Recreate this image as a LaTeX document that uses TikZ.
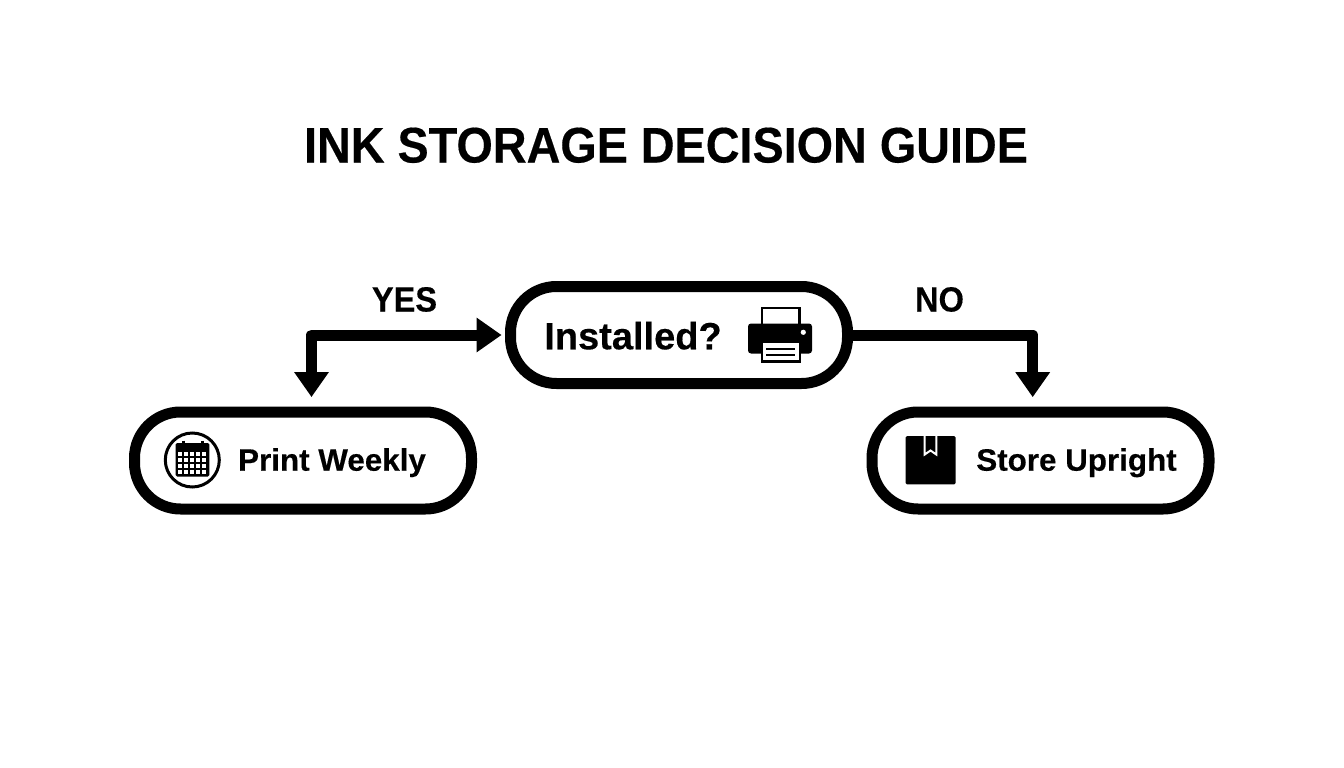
\documentclass[tikz,border=0pt]{standalone}
\usepackage{fontspec}
\usepackage{graphicx}
\setmainfont[BoldFeatures={FakeBold=0.35}]{Liberation Sans}
\usetikzlibrary{arrows.meta,calc}
\tikzset{
  pill/.style={draw=black,fill=white,line width=11pt,rectangle,rounded corners=46pt,minimum width=337pt,minimum height=97pt,inner sep=0pt},
  conn/.style={draw=black,line width=11pt,line join=round},
  tip/.tip={Triangle[length=25pt,width=33pt]},
  lab/.style={anchor=base,inner sep=0pt,text=black},
}
\newcommand{\txt}[3]{\fontsize{#1pt}{#1pt}\selectfont\bfseries\scalebox{#2}[1]{#3}}
\begin{document}
\begin{tikzpicture}[x=1pt,y=-1pt]
\useasboundingbox (0,0) rectangle (1344,768);
\fill[white] (0,0) rectangle (1344,768);
\node[lab] (title) at (666,162.5) {\txt{50}{0.935}{INK STORAGE DECISION GUIDE}};
\node[pill] (inst) at (679,335) {};
\node[pill] (print) at (303,460.5) {};
\node[pill] (store) at (1040.5,460.5) {};
\node[lab] (yes) at (404.5,311.5) {\txt{35}{0.93}{YES}};
\node[lab] (no) at (939.5,311.5) {\txt{35}{0.93}{NO}};
\node[lab] (t1) at (633,349.3) {\txt{38}{1.0}{Installed?}};
\node[lab] (t2) at (332,470.7) {\txt{31}{1.012}{Print Weekly}};
\node[lab] (t3) at (1076.5,470.7) {\txt{31}{1.012}{Store Upright}};
\draw[conn,{tip}-{tip},shorten <=3.4pt,shorten >=9.4pt] (inst.west) -| ($(print.north)+(8.5,0)$);
\draw[conn,-{tip},shorten >=9.3pt] (inst.east) -| ($(store.north)+(-7.8,0)$);
% printer icon
\draw[black,line width=2.6pt,fill=white] (761.8,307.8) rectangle (799.4,330);
\fill[black,rounded corners=3pt] (748,323.5) rectangle (812,353.5);
\fill[white] (803.3,332.3) circle (2.6);
\draw[black,line width=2.6pt,fill=white] (761.8,342) rectangle (800,361.2);
\draw[black,line width=2.4pt] (766,348.7) -- (795,348.7) (766,355) -- (795,355);
% calendar icon
\draw[black,line width=3pt] (192.3,460) circle (27);
\fill[black,rounded corners=1.5pt] (175.7,443) rectangle (209.3,476.5);
\draw[black,line width=3pt] (183.3,440.5) -- (183.3,447) (202.3,440.5) -- (202.3,447);
\foreach \c in {0,...,4}{\foreach \r in {0,...,3}{
  \fill[white] ({178+6*\c},{451.8+5.9*\r}) rectangle ++(4.1,4);
}}
% box icon
\fill[black,rounded corners=1.5pt] (905.5,436) rectangle (955.7,484.3);
\draw[white,line width=2pt] (924.7,436) -- (924.7,454.5) -- (930.5,450.5) -- (936.3,454.5) -- (936.3,436);
\end{tikzpicture}
\end{document}
